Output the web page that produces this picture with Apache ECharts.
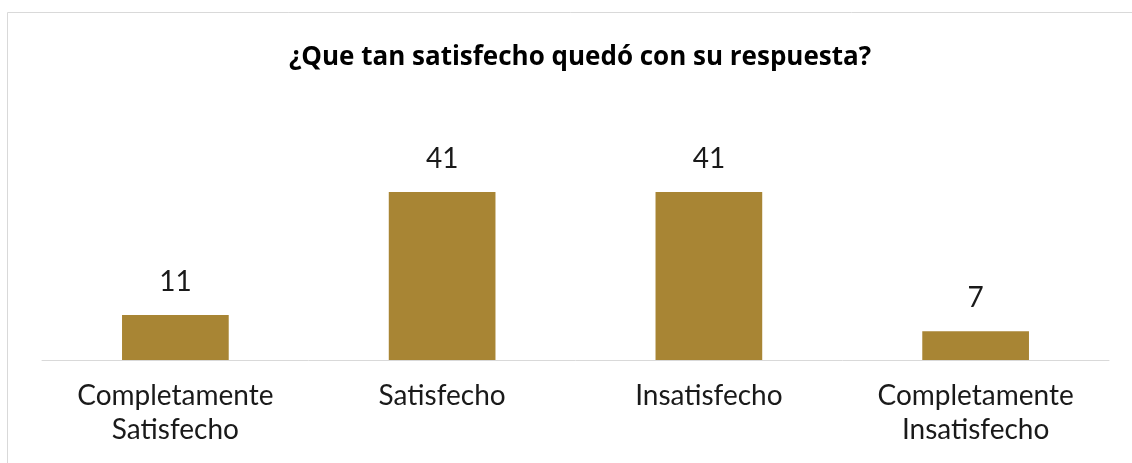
<!DOCTYPE html>
<html>
<head>
<meta charset="utf-8">
<script src="https://cdn.jsdelivr.net/npm/echarts@6/dist/echarts.min.js"></script>
<style>html,body{margin:0;padding:0;background:#fff}#c{width:1132px;height:463px}</style>
</head>
<body>
<div id="c"></div>
<script>
const categories = ['Completamente\nSatisfecho', 'Satisfecho', 'Insatisfecho', 'Completamente\nInsatisfecho'];
const values = [11, 41, 41, 7];
const titleText = '¿Que tan satisfecho quedó con su respuesta?';

const chart = echarts.init(document.getElementById('c'));
chart.setOption({
  backgroundColor: '#fff',
  animation: false,
  title: {
    text: titleText,
    left: 575,
    textAlign: 'center',
    top: 40,
    textStyle: { fontFamily: 'Open Sans', fontWeight: 'bold', fontSize: 26, color: '#000' }
  },
  graphic: [{
    type: 'rect', shape: { x: 7.5, y: 12.5, width: 1140, height: 500 },
    style: { fill: 'none', stroke: '#d9d9d9', lineWidth: 1 }, z: -1
  }],
  grid: { left: 42, right: 23, top: 155, bottom: 103 },
  xAxis: {
    type: 'category', data: categories,
    axisLine: { lineStyle: { color: '#d9d9d9', width: 1 } },
    axisTick: { show: false },
    axisLabel: { fontFamily: 'Lato', fontSize: 28, color: '#1a1a1a', lineHeight: 34, margin: 19, interval: 0 }
  },
  yAxis: { type: 'value', min: 0, max: 50, show: false, splitLine: { show: false } },
  series: [{
    type: 'bar', data: values, barWidth: '40%',
    itemStyle: { color: '#A88534' },
    label: { show: true, position: 'top', distance: 19, fontFamily: 'Lato', fontSize: 28, color: '#1a1a1a' }
  }]
});
</script>
</body>
</html>
